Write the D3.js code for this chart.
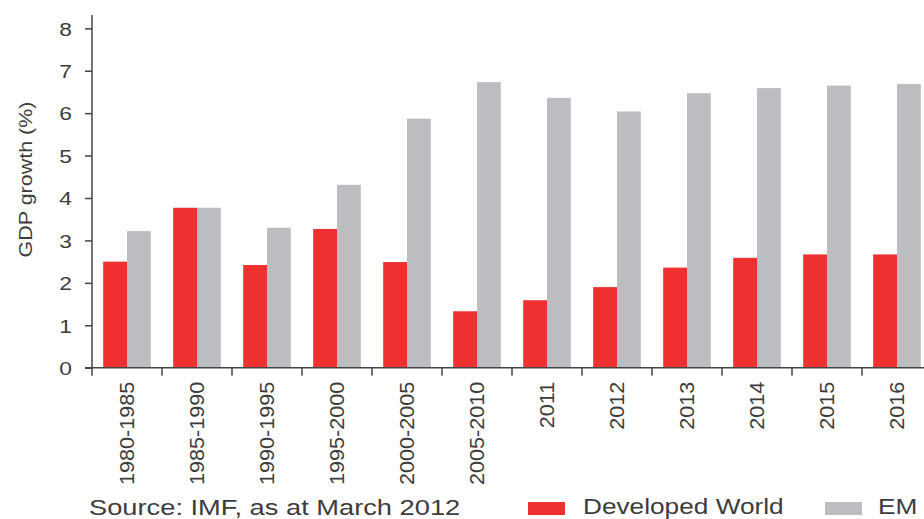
<!DOCTYPE html>
<html>
<head>
<meta charset="utf-8">
<script src="https://cdn.jsdelivr.net/npm/d3@7"></script>
<style>
  body { margin: 0; background: #fff; }
  svg { display: block; font-family: "Liberation Sans", Arial, sans-serif; }
</style>
</head>
<body>
<div id="chart"></div>
<script>
const categories = ["1980-1985", "1985-1990", "1990-1995", "1995-2000", "2000-2005", "2005-2010",
  "2011", "2012", "2013", "2014", "2015", "2016"];
const developed = [2.5, 3.77, 2.42, 3.27, 2.49, 1.33, 1.59, 1.9, 2.36, 2.59, 2.67, 2.67];
const em = [3.22, 3.77, 3.3, 4.31, 5.87, 6.73, 6.36, 6.04, 6.47, 6.59, 6.65, 6.69];
const yTicks = [0, 1, 2, 3, 4, 5, 6, 7, 8];
const seriesNames = ["Developed World", "EM"];

const width = 924, height = 519;
const textColor = "#3c3c3c";
const colors = ["#ee3030", "#bcbdc1"];

const svg = d3.select("#chart").append("svg")
  .attr("width", width)
  .attr("height", height)
  .style("background-color", "white");

const left = 92, right = 932;

const y = d3.scaleLinear().domain([0, 8]).range([367.7, 28.3]);

// band scale for the axis (ticks sit at boundaries)
const xAxisScale = d3.scaleBand().domain(categories).range([left, right]).padding(0);
const x0 = d3.scaleBand().domain(categories).range([left, right])
  .paddingInner(0.32).paddingOuter(0.16);
const x1 = d3.scaleBand().domain(seriesNames).range([0, x0.bandwidth()]);

const data = categories.map((c, i) => ({ category: c, values: [developed[i], em[i]] }));

// bars
svg.append("g")
  .selectAll("g")
  .data(data)
  .join("g")
  .attr("transform", d => `translate(${x0(d.category)},0)`)
  .selectAll("rect")
  .data(d => d.values.map((v, j) => ({ key: seriesNames[j], value: v, j })))
  .join("rect")
  .attr("x", d => x1(d.key))
  .attr("width", x1.bandwidth())
  .attr("y", d => y(d.value))
  .attr("height", d => y(0) - y(d.value))
  .attr("fill", d => colors[d.j]);

// y axis
const yAxis = svg.append("g")
  .attr("transform", `translate(${left},0)`)
  .call(d3.axisLeft(y).tickValues(yTicks).tickSize(7).tickSizeOuter(0));
yAxis.select(".domain").remove();
yAxis.append("line")
  .attr("x1", 0).attr("x2", 0)
  .attr("y1", 15).attr("y2", y(0))
  .attr("stroke", "#444").attr("stroke-width", 1.5);
yAxis.selectAll(".tick line").attr("stroke", "#444").attr("stroke-width", 1.5);
yAxis.selectAll(".tick text")
  .attr("fill", textColor)
  .style("font-size", "19px")
  .attr("x", 0)
  .attr("dy", "0.36em")
  .attr("transform", "translate(-20,0) scale(1.2,1)");

// x axis
const step = xAxisScale.step();
const xAxis = svg.append("g")
  .attr("transform", `translate(0,${y(0)})`)
  .call(d3.axisBottom(xAxisScale).tickSize(0).tickSizeOuter(0));
xAxis.select(".domain").attr("stroke", "#444").attr("stroke-width", 1.5)
  .attr("d", `M${left - 7},0H${right}`);
xAxis.selectAll(".tick").append("line")
  .attr("x1", -step / 2).attr("x2", -step / 2)
  .attr("y1", 0).attr("y2", 8)
  .attr("stroke", "#444").attr("stroke-width", 1.5);
xAxis.selectAll(".tick text")
  .attr("fill", textColor)
  .style("font-size", "20px")
  .style("text-anchor", "end")
  .attr("transform", "rotate(-90) scale(1.08,1)")
  .attr("x", -13)
  .attr("y", 0)
  .attr("dy", "0.35em");

// y axis title
svg.append("text")
  .attr("transform", "translate(32,179.5) rotate(-90) scale(1.13,1)")
  .attr("text-anchor", "middle")
  .attr("fill", textColor)
  .style("font-size", "19px")
  .text("GDP growth (%)");

// source
svg.append("text")
  .attr("transform", "translate(89,515) scale(1.24,1)")
  .attr("fill", textColor)
  .style("font-size", "22px")
  .text("Source: IMF, as at March 2012");

// legend
const legendX = [528, 825];
const legend = svg.append("g")
  .selectAll("g")
  .data(seriesNames)
  .join("g")
  .attr("transform", (d, i) => `translate(${legendX[i]},502)`);
legend.append("rect")
  .attr("width", 37).attr("height", 13)
  .attr("fill", (d, i) => colors[i]);
legend.append("text")
  .attr("transform", d => `translate(${d === "EM" ? 53 : 55},12.2) scale(1.22,1)`)
  .attr("fill", textColor)
  .style("font-size", "21.5px")
  .text(d => d);
</script>
</body>
</html>
